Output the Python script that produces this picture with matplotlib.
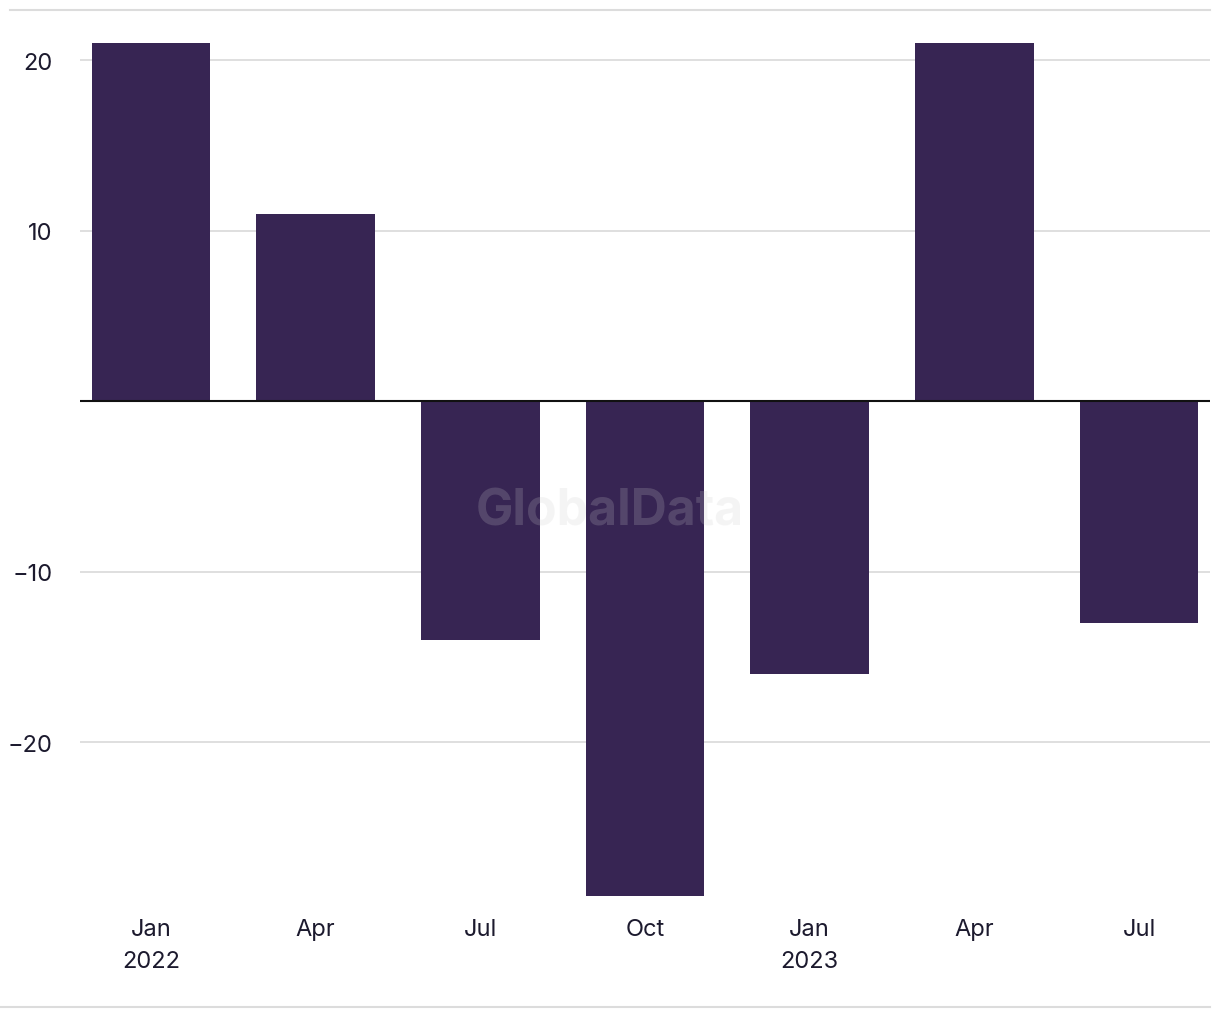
import matplotlib
matplotlib.use("Agg")
import matplotlib.pyplot as plt
from matplotlib.lines import Line2D

# Datos del grafico (trimestres)
quarters = ["Jan\n2022", "Apr", "Jul", "Oct", "Jan\n2023", "Apr", "Jul"]
values = [21, 11, -14, -29, -16, 21, -13]

bar_color = "#372553"
text_color = "#1c1a2e"
grid_color = "#dcdcdc"

plt.rcParams["font.family"] = ["Inter", "DejaVu Sans"]

fig = plt.figure(figsize=(12.2, 10.2), dpi=100)
ax = fig.add_axes([80 / 1220, 1 - 897 / 1020, 1130 / 1220, (897 - 44) / 1020])

x = list(range(len(values)))
ax.bar(x, values, width=0.72, color=bar_color, zorder=2)
ax.axhline(0, color="#111111", linewidth=1.5, zorder=3)

ax.set_xlim(-0.43, len(values) - 1 + 0.43)
ax.set_ylim(-29, 21)
ax.set_yticks([-20, -10, 10, 20])
ax.set_yticklabels(["\u221220", "\u221210", "10", "20"])
ax.set_xticks(x)
ax.set_xticklabels(quarters, linespacing=1.55)

ax.grid(axis="y", color=grid_color, linewidth=1.3, zorder=0)
ax.grid(axis="x", visible=False)
for s in ax.spines.values():
    s.set_visible(False)
ax.tick_params(axis="both", length=0, labelsize=17, colors=text_color)
ax.tick_params(axis="y", pad=20)
ax.tick_params(axis="x", pad=16)

# Lineas de borde arriba y abajo
fig.add_artist(Line2D([10 / 1220, 1210 / 1220], [1 - 11 / 1020, 1 - 11 / 1020],
                      color=grid_color, linewidth=1.5, transform=fig.transFigure))
fig.add_artist(Line2D([0, 1210 / 1220], [1 - 1008 / 1020, 1 - 1008 / 1020],
                      color=grid_color, linewidth=1.5, transform=fig.transFigure))

# Marca de agua
fig.text(610 / 1220, 1 - 512 / 1020, "GlobalData", fontsize=36, fontweight="bold",
         color="#cccccc", alpha=0.2, ha="center", va="center", zorder=5)

fig.savefig("out.png", dpi=100, facecolor="white")
